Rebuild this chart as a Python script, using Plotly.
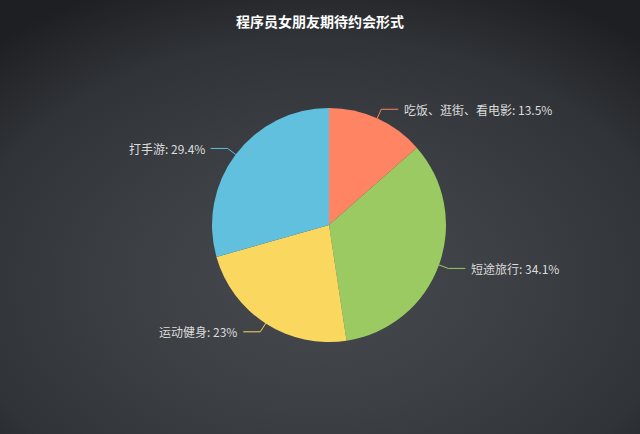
import math
import plotly.graph_objects as go

W, H = 640, 434

TITLE = "程序员女朋友期待约会形式"
labels = ["吃饭、逛街、看电影", "短途旅行", "运动健身", "打手游"]
values = [13.5, 34.1, 23, 29.4]
colors = ["#FE8463", "#9BCA63", "#FAD860", "#60C0DD"]

TEXT = "#dcdcdc"
FONT = "Noto Sans CJK SC, Noto Sans, sans-serif"

# pie geometry in pixels
CX, CY, R = 329, 225, 117

bg_svg = (
    "data:image/svg+xml;utf8,"
    "<svg xmlns='http://www.w3.org/2000/svg' width='640' height='434' preserveAspectRatio='none'>"
    "<defs><radialGradient id='g' cx='50%' cy='65%' r='75%'>"
    "<stop offset='0' stop-color='%2346494e'/>"
    "<stop offset='0.4' stop-color='%233c3f44'/>"
    "<stop offset='0.75' stop-color='%23303337'/>"
    "<stop offset='1' stop-color='%231e1f22'/>"
    "</radialGradient></defs>"
    "<rect width='640' height='434' fill='url(%23g)'/></svg>"
)


def px(x, y):
    return x / W, 1 - y / H


fig = go.Figure(
    go.Pie(
        labels=labels,
        values=values,
        sort=False,
        direction="clockwise",
        marker=dict(colors=colors, line=dict(width=0)),
        textinfo="none",
        hoverinfo="label+value",
        domain=dict(x=[(CX - R) / W, (CX + R) / W], y=[1 - (CY + R) / H, 1 - (CY - R) / H]),
        showlegend=False,
    )
)

# leader lines and labels, placed from slice mid-angles
total = sum(values)
acc = 0
for lab, val, col in zip(labels, values, colors):
    mid = (acc + val / 2) / total * 2 * math.pi
    acc += val
    sx, sy = math.sin(mid), -math.cos(mid)
    x0, y0 = CX + R * sx, CY + R * sy
    x1, y1 = CX + (R + 10) * sx, CY + (R + 10) * sy
    side = 1 if sx >= 0 else -1
    x2 = x1 + 17 * side
    p0, p1, p2 = px(x0, y0), px(x1, y1), px(x2, y1)
    fig.add_shape(
        type="path",
        xref="paper",
        yref="paper",
        path=f"M {p0[0]},{p0[1]} L {p1[0]},{p1[1]} L {p2[0]},{p2[1]}",
        line=dict(color=col, width=1),
    )
    tx, ty = px(x2 + 4 * side, y1)
    fig.add_annotation(
        x=tx,
        y=ty,
        xref="paper",
        yref="paper",
        text=f"{lab}: {val:g}%",
        showarrow=False,
        xanchor="left" if side > 0 else "right",
        yanchor="middle",
        font=dict(size=12, color=TEXT, family=FONT),
    )

fig.update_layout(
    width=W,
    height=H,
    margin=dict(l=0, r=0, t=0, b=0),
    paper_bgcolor="#2a2c30",
    plot_bgcolor="rgba(0,0,0,0)",
    title=dict(
        text=f"<b>{TITLE}</b>",
        x=0.5,
        xanchor="center",
        y=1 - 22 / H,
        yanchor="middle",
        font=dict(size=14, color="#ffffff", family=FONT),
    ),
    images=[
        dict(
            source=bg_svg,
            xref="paper",
            yref="paper",
            x=0,
            y=1,
            sizex=1,
            sizey=1,
            sizing="stretch",
            layer="below",
        )
    ],
)

fig.write_html(
    "out.html",
    config={"displayModeBar": False},
    post_script="document.body.style.margin='0';document.body.style.background='#1e1f22';",
)
